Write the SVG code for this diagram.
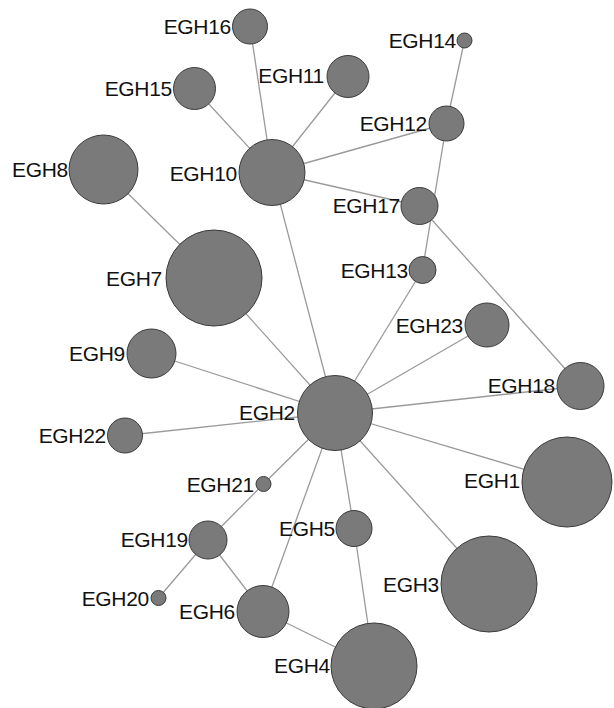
<svg xmlns="http://www.w3.org/2000/svg" width="614" height="708" viewBox="0 0 614 708">
<style>
.e{stroke:#9a9a9a;stroke-width:1.3;fill:none}
.n circle{fill:#7a7a7a;stroke:#3a3a3a;stroke-width:1}
.n text{font-family:"Liberation Sans",Arial,sans-serif;font-size:21px;fill:#111;text-anchor:end;letter-spacing:-0.3px}
</style>
<rect width="614" height="708" fill="#fff"/>
<g id="edges">
<line class="e" x1="250" y1="26.5" x2="272" y2="172.5"/>
<line class="e" x1="194.5" y1="88.5" x2="272" y2="172.5"/>
<line class="e" x1="348" y1="76.5" x2="272" y2="172.5"/>
<line class="e" x1="446.5" y1="123.5" x2="272" y2="172.5"/>
<line class="e" x1="419.5" y1="206" x2="272" y2="172.5"/>
<line class="e" x1="464.5" y1="40.5" x2="446.5" y2="123.5"/>
<line class="e" x1="446.5" y1="123.5" x2="422.5" y2="270"/>
<line class="e" x1="419.5" y1="206" x2="580.5" y2="386"/>
<line class="e" x1="103.5" y1="169.5" x2="214" y2="278"/>
<line class="e" x1="214" y1="278" x2="335" y2="413"/>
<line class="e" x1="272" y1="172.5" x2="335" y2="413"/>
<line class="e" x1="151.5" y1="353.5" x2="335" y2="413"/>
<line class="e" x1="125" y1="435.5" x2="335" y2="413"/>
<line class="e" x1="422.5" y1="270" x2="335" y2="413"/>
<line class="e" x1="487" y1="325" x2="335" y2="413"/>
<line class="e" x1="580.5" y1="386" x2="335" y2="413"/>
<line class="e" x1="567" y1="482" x2="335" y2="413"/>
<line class="e" x1="489" y1="584" x2="335" y2="413"/>
<line class="e" x1="354" y1="528.5" x2="335" y2="413"/>
<line class="e" x1="263" y1="611.5" x2="335" y2="413"/>
<line class="e" x1="263.5" y1="484" x2="335" y2="413"/>
<line class="e" x1="263.5" y1="484" x2="208" y2="540"/>
<line class="e" x1="208" y1="540" x2="158.5" y2="598"/>
<line class="e" x1="208" y1="540" x2="263" y2="611.5"/>
<line class="e" x1="263" y1="611.5" x2="374" y2="666"/>
<line class="e" x1="354" y1="528.5" x2="374" y2="666"/>
</g>
<g id="EGH16" class="n"><circle cx="250" cy="26.5" r="17.5"/><text x="231" y="33.5">EGH16</text></g>
<g id="EGH15" class="n"><circle cx="194.5" cy="88.5" r="21"/><text x="172" y="96">EGH15</text></g>
<g id="EGH8" class="n"><circle cx="103.5" cy="169.5" r="34.5"/><text x="68" y="177">EGH8</text></g>
<g id="EGH10" class="n"><circle cx="272" cy="172.5" r="33"/><text x="237" y="181">EGH10</text></g>
<g id="EGH14" class="n"><circle cx="464.5" cy="40.5" r="7.5"/><text x="456" y="48">EGH14</text></g>
<g id="EGH11" class="n"><circle cx="348" cy="76.5" r="21"/><text x="324" y="83">EGH11</text></g>
<g id="EGH12" class="n"><circle cx="446.5" cy="123.5" r="17.5"/><text x="427" y="131">EGH12</text></g>
<g id="EGH17" class="n"><circle cx="419.5" cy="206" r="18.5"/><text x="400" y="213">EGH17</text></g>
<g id="EGH7" class="n"><circle cx="214" cy="278" r="48"/><text x="162" y="285.5">EGH7</text></g>
<g id="EGH9" class="n"><circle cx="151.5" cy="353.5" r="24.5"/><text x="125" y="361">EGH9</text></g>
<g id="EGH22" class="n"><circle cx="125" cy="435.5" r="17.5"/><text x="106" y="443">EGH22</text></g>
<g id="EGH2" class="n"><circle cx="335" cy="413" r="37.5"/><text x="295" y="420">EGH2</text></g>
<g id="EGH13" class="n"><circle cx="422.5" cy="270" r="13.5"/><text x="408" y="277.5">EGH13</text></g>
<g id="EGH23" class="n"><circle cx="487" cy="325" r="22"/><text x="463" y="332.5">EGH23</text></g>
<g id="EGH18" class="n"><circle cx="580.5" cy="386" r="23.5"/><text x="555" y="393">EGH18</text></g>
<g id="EGH1" class="n"><circle cx="567" cy="482" r="45"/><text x="520" y="487.5">EGH1</text></g>
<g id="EGH21" class="n"><circle cx="263.5" cy="484" r="7.5"/><text x="254" y="491.5">EGH21</text></g>
<g id="EGH19" class="n"><circle cx="208" cy="540" r="19"/><text x="188" y="547">EGH19</text></g>
<g id="EGH5" class="n"><circle cx="354" cy="528.5" r="18"/><text x="335" y="536">EGH5</text></g>
<g id="EGH3" class="n"><circle cx="489" cy="584" r="48"/><text x="439" y="591.5">EGH3</text></g>
<g id="EGH20" class="n"><circle cx="158.5" cy="598" r="7.5"/><text x="149" y="605.5">EGH20</text></g>
<g id="EGH6" class="n"><circle cx="263" cy="611.5" r="26"/><text x="235" y="619">EGH6</text></g>
<g id="EGH4" class="n"><circle cx="374" cy="666" r="43"/><text x="330" y="673">EGH4</text></g>
</svg>
